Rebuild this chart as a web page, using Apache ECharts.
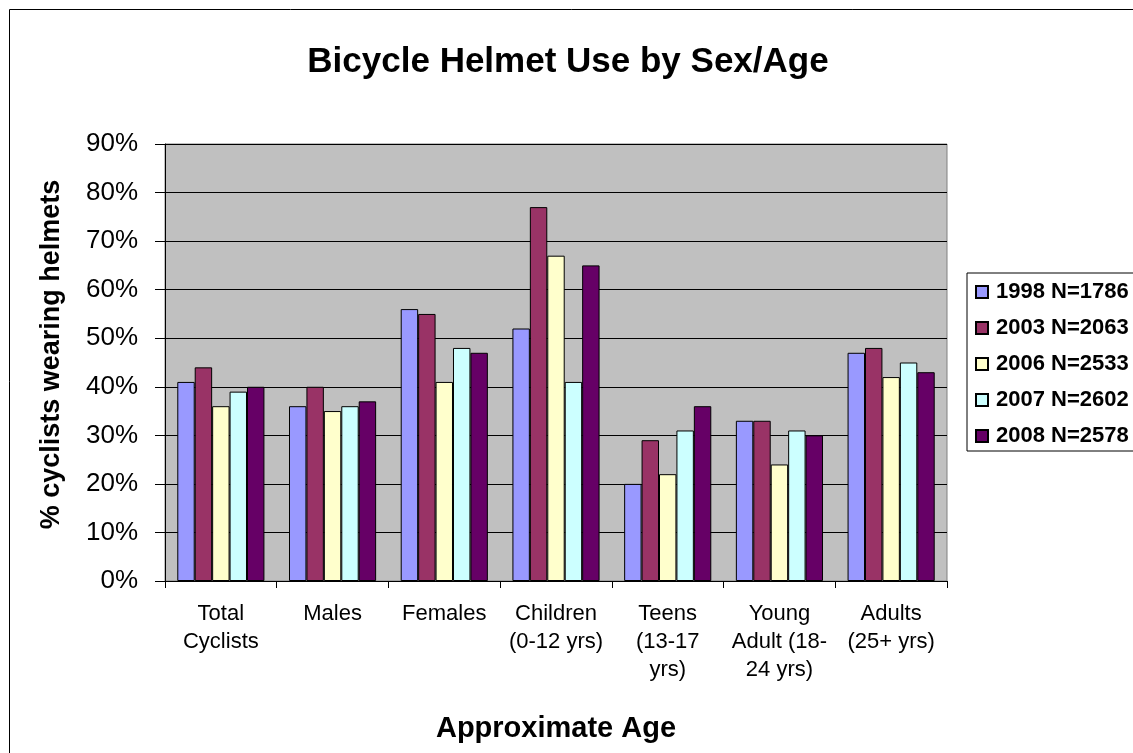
<!DOCTYPE html>
<html><head><meta charset="utf-8">
<script src="https://cdn.jsdelivr.net/npm/echarts@6/dist/echarts.min.js"></script>
<style>html,body{margin:0;padding:0;background:#fff}#c{width:1133px;height:753px}</style>
</head><body><div id="c"></div>
<script>
const categories = ["Total\nCyclists","Males","Females","Children\n(0-12 yrs)","Teens\n(13-17\nyrs)","Young\nAdult (18-\n24 yrs)","Adults\n(25+ yrs)"];
const seriesNames = ["1998 N=1786","2003 N=2063","2006 N=2533","2007 N=2602","2008 N=2578"];
const v1998 = [41,36,56,52,20,33,47];
const v2003 = [44,40,55,77,29,33,48];
const v2006 = [36,35,41,67,22,24,42];
const v2007 = [39,36,48,41,31,31,45];
const v2008 = [40,37,47,65,36,30,43];
const colors = ["#9999FF","#993366","#FFFFCC","#CCFFFF","#660066"];
const yTicks = [0,10,20,30,40,50,60,70,80,90];

const values = [v1998,v2003,v2006,v2007,v2008];
const chart = echarts.init(document.getElementById('c'));
const font = "'Liberation Sans', Arial, sans-serif";
chart.setOption({
  animation:false,
  backgroundColor:'#fff',
  textStyle:{fontFamily:font},
  title:{text:'Bicycle Helmet Use by Sex/Age',left:563,textAlign:'center',top:40,
    textStyle:{fontSize:35,fontWeight:'bold',color:'#000',fontFamily:font}},
  graphic:[{type:'rect',shape:{x:9.5,y:9.5,width:1300,height:900},style:{fill:'none',stroke:'#000',lineWidth:1},silent:true}],
  legend:{orient:'vertical',left:967,top:273,itemWidth:12,itemHeight:12,itemGap:14,
    borderColor:'#000',borderWidth:1,padding:[8,12,4,8],icon:'rect',
    textStyle:{fontSize:22,lineHeight:22,fontWeight:'bold',color:'#000',fontFamily:font,padding:[0,0,0,3]},
    data:seriesNames},
  grid:{left:165,right:186,top:144,bottom:172,backgroundColor:'#C0C0C0',show:true,borderColor:'#808080',borderWidth:1},
  xAxis:{type:'category',data:categories,
    name:'Approximate Age',nameLocation:'middle',nameGap:133,
    nameTextStyle:{fontSize:29,fontWeight:'bold',color:'#000',fontFamily:font},
    axisLine:{lineStyle:{color:'#000',width:1}},
    axisTick:{show:true,length:7,lineStyle:{color:'#000'},alignWithLabel:false},
    axisLabel:{fontSize:22,color:'#000',lineHeight:28,margin:19,interval:0,fontFamily:font}},
  yAxis:{type:'value',min:0,max:90,interval:10,
    name:'% cyclists wearing helmets',nameLocation:'middle',nameGap:100,
    nameTextStyle:{fontSize:27,fontWeight:'bold',color:'#000',fontFamily:font,padding:[0,0,0,16]},
    axisLine:{show:true,lineStyle:{color:'#000'}},
    axisTick:{show:true,length:10,lineStyle:{color:'#000'}},
    splitLine:{lineStyle:{color:'#000',width:1}},
    axisLabel:{fontSize:26,color:'#000',margin:27,fontFamily:font,
      formatter:v=>yTicks.includes(v)?v+'%':''}},
  series:values.map((d,i)=>({name:seriesNames[i],type:'bar',data:d,
    barGap:'0%',barCategoryGap:'22%',
    itemStyle:{color:colors[i],borderColor:'#000',borderWidth:1}}))
});
</script></body></html>
